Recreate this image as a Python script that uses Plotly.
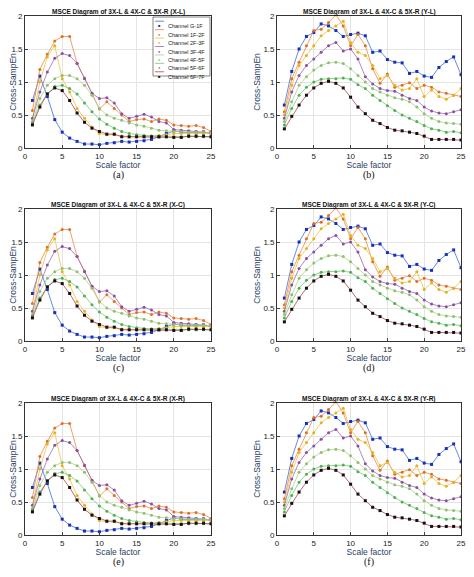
import plotly.graph_objects as go

scale = list(range(1, 26))
names = ["Channel G-1F", "Channel 1F-2F", "Channel 2F-3F", "Channel 3F-4F",
         "Channel 4F-5F", "Channel 5F-6F", "Channel 6F-7F"]
line_colors = ["#3d6fd6", "#e8894a", "#f0c040", "#9a6bb0", "#a9d18e", "#77c777", "#b04050"]
marker_colors = ["#1a2fb8", "#e07020", "#e8b020", "#8a4fa0", "#90c070", "#50b050", "#111111"]

x_g1 = [0.72,1.09,0.78,0.43,0.24,0.15,0.10,0.06,0.06,0.05,0.07,0.08,0.10,0.09,0.10,0.11,0.13,0.17,0.22,0.26,0.24,0.24,0.24,0.24,0.23]
x_12 = [0.57,1.19,1.42,1.62,1.69,1.69,1.28,1.06,0.83,0.59,0.70,0.60,0.50,0.40,0.43,0.44,0.40,0.44,0.42,0.35,0.34,0.33,0.34,0.31,0.25]
x_23 = [0.45,1.00,1.38,1.55,1.05,0.85,0.60,0.45,0.32,0.22,0.20,0.20,0.18,0.17,0.17,0.18,0.18,0.19,0.20,0.22,0.22,0.22,0.22,0.22,0.22]
x_34 = [0.45,0.85,1.15,1.36,1.43,1.40,1.28,1.05,0.83,0.75,0.76,0.68,0.52,0.45,0.48,0.51,0.47,0.40,0.38,0.28,0.27,0.26,0.25,0.25,0.23]
x_45 = [0.40,0.75,0.95,1.05,1.10,1.10,1.05,0.95,0.80,0.60,0.50,0.45,0.42,0.38,0.35,0.33,0.30,0.27,0.26,0.25,0.25,0.24,0.24,0.24,0.23]
x_56 = [0.38,0.65,0.82,0.93,0.95,0.90,0.82,0.68,0.55,0.44,0.36,0.30,0.25,0.22,0.20,0.19,0.18,0.18,0.17,0.17,0.17,0.17,0.17,0.17,0.17]
x_67 = [0.35,0.62,0.82,0.91,0.87,0.72,0.53,0.39,0.30,0.25,0.21,0.21,0.17,0.17,0.17,0.17,0.17,0.17,0.17,0.16,0.16,0.18,0.18,0.18,0.17]

y_g1 = [0.65,1.16,1.50,1.69,1.75,1.88,1.85,1.78,1.69,1.72,1.74,1.70,1.45,1.47,1.34,1.30,1.29,1.13,1.16,1.09,1.07,1.22,1.31,1.38,1.11]
y_12 = [0.55,1.05,1.30,1.55,1.78,1.80,1.90,2.02,1.85,1.55,1.72,1.55,1.20,0.98,1.12,0.92,0.95,0.99,0.90,0.95,0.92,0.85,0.83,0.80,0.78]
y_23 = [0.50,0.95,1.25,1.40,1.55,1.70,1.78,1.85,1.92,1.60,1.45,1.40,1.25,1.05,1.10,0.95,0.88,0.90,1.05,0.78,0.88,0.78,0.74,0.80,0.90]
y_34 = [0.45,0.85,1.10,1.25,1.35,1.45,1.55,1.60,1.47,1.50,1.35,1.08,0.97,0.90,0.87,0.86,0.80,0.75,0.72,0.62,0.56,0.53,0.52,0.55,0.58]
y_45 = [0.40,0.70,0.95,1.08,1.18,1.25,1.29,1.30,1.28,1.20,1.10,1.00,0.90,0.85,0.80,0.76,0.74,0.70,0.62,0.52,0.45,0.40,0.38,0.37,0.36]
y_56 = [0.35,0.60,0.80,0.92,1.00,1.04,1.05,1.05,1.06,1.04,0.96,0.90,0.80,0.72,0.64,0.57,0.50,0.45,0.40,0.34,0.29,0.27,0.24,0.25,0.23]
y_67 = [0.29,0.48,0.65,0.80,0.91,0.98,1.01,0.98,0.91,0.77,0.62,0.52,0.42,0.37,0.31,0.27,0.26,0.24,0.22,0.18,0.13,0.13,0.13,0.13,0.12]

left_series = [x_g1, x_12, x_23, x_34, x_45, x_56, x_67]
right_series = [y_g1, y_12, y_23, y_34, y_45, y_56, y_67]
titles = ["MSCE Diagram of 3X-L & 4X-C & 5X-R (X-L)", "MSCE Diagram of 3X-L & 4X-C & 5X-R (Y-L)",
          "MSCE Diagram of 3X-L & 4X-C & 5X-R (X-C)", "MSCE Diagram of 3X-L & 4X-C & 5X-R (Y-C)",
          "MSCE Diagram of 3X-L & 4X-C & 5X-R (X-R)", "MSCE Diagram of 3X-L & 4X-C & 5X-R (Y-R)"]
labels = ["(a)", "(b)", "(c)", "(d)", "(e)", "(f)"]

OFF = 8  # page body margin
W, H = 474 - OFF, 577 - OFF
xdoms = [(25, 211), (277, 461)]
ytops = [16, 209, 403]
ph = 132

def px(xp):
    return (xp - OFF) / W

def py(yp):
    return 1 - (yp - OFF) / H

fig = go.Figure()
for p in range(6):
    r, c = divmod(p, 2)
    idx = p + 1
    xa = "x" if idx == 1 else f"x{idx}"
    ya = "y" if idx == 1 else f"y{idx}"
    data = left_series if c == 0 else right_series
    for k, vals in enumerate(data):
        fig.add_trace(go.Scatter(x=scale, y=vals, xaxis=xa, yaxis=ya, mode="lines+markers",
                                 name=names[k], showlegend=False,
                                 line=dict(color=line_colors[k], width=0.8),
                                 marker=dict(color=marker_colors[k], size=3, symbol="square" if k in (0, 6) else "circle")))
    x0, x1 = xdoms[c]
    top = ytops[r]
    dom_x = [px(x0), px(x1)]
    dom_y = [py(top + ph), py(top)]
    ax = dict(showline=True, mirror=True, linecolor="#333", linewidth=0.8, ticks="inside", ticklen=3,
              gridcolor="#e4e4e4", zeroline=False, tickfont=dict(size=8, color="#222"), automargin=False)
    fig.layout[f"xaxis{idx}"] = dict(ax, domain=dom_x, range=[0, 25], dtick=5, anchor=ya,
                                     title=dict(text="Scale factor", font=dict(size=8.5), standoff=2))
    fig.layout[f"yaxis{idx}"] = dict(ax, domain=dom_y, range=[0, 2], dtick=0.5, anchor=xa,
                                     title=dict(text="Cross-SampEn", font=dict(size=8.5), standoff=1))
    fig.add_annotation(text=f"<b>{titles[p]}</b>", x=(dom_x[0] + dom_x[1]) / 2, y=dom_y[1], xref="paper", yref="paper",
                       xanchor="center", yanchor="bottom", showarrow=False, font=dict(size=6.5, color="#111"), yshift=-2)
    fig.add_annotation(text=labels[p], x=(dom_x[0] + dom_x[1]) / 2, y=py(top + ph + 27), xref="paper", yref="paper",
                       xanchor="center", yanchor="middle", showarrow=False,
                       font=dict(size=10, family="Liberation Serif", color="#111"))

# compact legend box in panel (a)
lx0, lx1, ly0, ly1 = 153, 210, 17, 76
fig.add_shape(type="rect", xref="paper", yref="paper", x0=px(lx0), x1=px(lx1), y0=py(ly1), y1=py(ly0),
              line=dict(color="#333", width=0.6), fillcolor="white", layer="above")
step = (ly1 - ly0) / 7
for k, nm in enumerate(names):
    yy = ly0 + step * (k + 0.5)
    fig.add_shape(type="line", xref="paper", yref="paper", x0=px(lx0 + 2), x1=px(lx0 + 11), y0=py(yy), y1=py(yy),
                  line=dict(color=line_colors[k], width=0.8), layer="above")
    fig.add_annotation(text="■" if k in (0, 6) else "●", x=px(lx0 + 6.5), y=py(yy), xref="paper", yref="paper",
                       xanchor="center", showarrow=False, font=dict(size=4, color=marker_colors[k]))
    fig.add_annotation(text=nm, x=px(lx0 + 13), y=py(yy), xref="paper", yref="paper", xanchor="left",
                       showarrow=False, font=dict(size=5.5, color="#222"))

fig.update_layout(width=W, height=H, margin=dict(l=0, r=0, t=0, b=0), plot_bgcolor="white", paper_bgcolor="white",
                  font=dict(family="Liberation Sans"), showlegend=False)
fig.write_html("out.html")
